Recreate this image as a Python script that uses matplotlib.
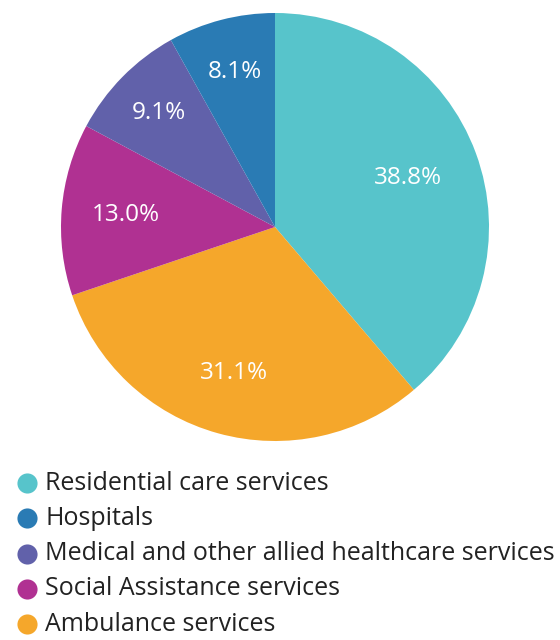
import numpy as np
import matplotlib
matplotlib.use("Agg")
import matplotlib.pyplot as plt

plt.rcParams['font.family'] = ['Open Sans', 'DejaVu Sans']

# slices in clockwise drawing order, starting at 12 o'clock
categories = ["Residential care services", "Ambulance services", "Social Assistance services",
              "Medical and other allied healthcare services", "Hospitals"]
shares = [38.8, 31.1, 13.0, 9.1, 8.1]
colors = ["#57C4CB", "#F5A72B", "#B03192", "#6161AA", "#2A7BB4"]
label_dist = [0.66, 0.71, 0.70, 0.76, 0.75]

# legend order
legend_order = ["Residential care services", "Hospitals", "Medical and other allied healthcare services",
                "Social Assistance services", "Ambulance services"]

W, H = 560, 640
fig = plt.figure(figsize=(W / 100, H / 100), dpi=100)

cx, cy, r = 275, 227, 214
ax = fig.add_axes([(cx - r) / W, 1 - (cy + r) / H, 2 * r / W, 2 * r / H])
wedges, _ = ax.pie(shares, colors=colors, startangle=90, counterclock=False, radius=1,
                   wedgeprops=dict(linewidth=0))
ax.set_xlim(-1, 1)
ax.set_ylim(-1, 1)
ax.set_aspect('equal')
ax.axis('off')

# percentage labels at the mid angle of each wedge
for w, v, d in zip(wedges, shares, label_dist):
    ang = np.deg2rad((w.theta1 + w.theta2) / 2)
    ax.text(d * np.cos(ang), d * np.sin(ang), f"{v:.1f}%", ha='center', va='center',
            color='white', fontsize=17.5)

# legend drawn as a column of dots and labels
lax = fig.add_axes([0, 0, 1, 1])
lax.set_xlim(0, W)
lax.set_ylim(H, 0)
lax.axis('off')
for i, name in enumerate(legend_order):
    y = 483 + i * 35.3
    lax.scatter([27], [y], s=210, color=colors[categories.index(name)], linewidths=0)
    lax.text(45, y, name, va='center', ha='left', fontsize=18, color='#222222')

fig.savefig("out.png", dpi=100)
